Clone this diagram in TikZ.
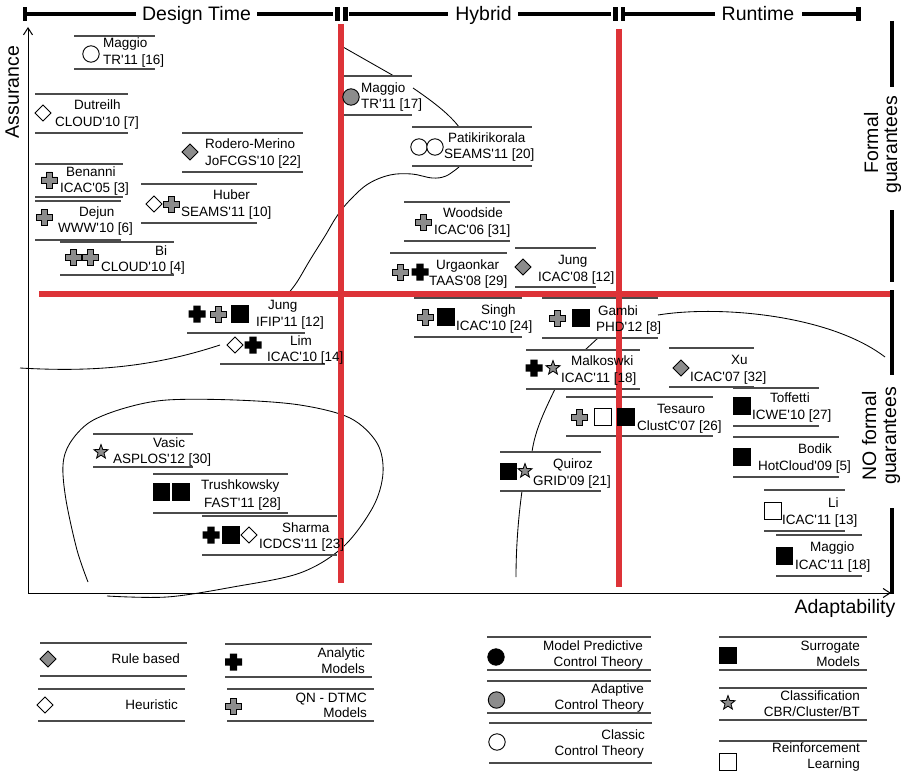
\documentclass[tikz,border=0pt]{standalone}
\usepackage{fontspec}
\setmainfont{Liberation Sans}
\usetikzlibrary{arrows.meta}
\newcommand\ap{\XeTeXglyph\XeTeXcharglyph"27\relax}
\definecolor{redline}{RGB}{221,51,56}
\definecolor{symgray}{RGB}{140,140,140}
\definecolor{rulegray}{RGB}{75,75,75}
\tikzset{
  lbl/.style={font=\fontsize{13.5}{16}\selectfont, inner sep=0pt, anchor=base west},
  lgd/.style={font=\fontsize{13.5}{16}\selectfont, inner sep=0pt, anchor=base east},
  big/.style={font=\fontsize{19.5}{21}\selectfont, inner sep=0pt, anchor=base},
  rl/.style={draw=rulegray, line width=1.1pt},
  redl/.style={draw=redline, line width=5.5pt},
  barline/.style={line width=4pt},
  curv/.style={line width=0.85pt},
  axisline/.style={line width=1pt, -{Straight Barb[length=7pt,width=9pt]}},
  crossg/.pic={\path[draw=black,line width=0.9pt,fill=symgray] (-3,-8)--(3,-8)--(3,-3)--(8,-3)--(8,3)--(3,3)--(3,8)--(-3,8)--(-3,3)--(-8,3)--(-8,-3)--(-3,-3)--cycle;},
  crossb/.pic={\path[fill=black] (-3.7,-8.5)--(3.7,-8.5)--(3.7,-3.7)--(8.5,-3.7)--(8.5,3.7)--(3.7,3.7)--(3.7,8.5)--(-3.7,8.5)--(-3.7,3.7)--(-8.5,3.7)--(-8.5,-3.7)--(-3.7,-3.7)--cycle;},
  diam/.pic={\path[draw=black,line width=0.9pt,pic actions] (0,-8)--(8,0)--(0,8)--(-8,0)--cycle;},
  circ/.pic={\path[draw=black,line width=0.9pt,pic actions] (0,0) circle[radius=8.2];},
  sq/.pic={\path[draw=black,line width=0.9pt,pic actions] (-8.3,-8.3) rectangle (8.3,8.3);},
  starg/.pic={\path[draw=black,line width=0.8pt,fill=symgray] (0,-7.5)--(1.82,-2.51)--(7.13,-2.32)--(2.95,0.96)--(4.41,6.07)--(0,3.1)--(-4.41,6.07)--(-2.95,0.96)--(-7.13,-2.32)--(-1.82,-2.51)--cycle;}
}
\begin{document}
\begin{tikzpicture}[x=1pt,y=-1pt]
\useasboundingbox[fill=white] (0,0) rectangle (908,773);

% ---------- hand-drawn grouping curves ----------
\draw[curv] (343,47) -- (394,76);
\draw[curv] (413,88) .. controls (435,103) and (450,115) .. (459,127);
\draw[curv] plot[smooth,tension=0.6] coordinates {(459,167) (446,176) (432,178) (412,174) (390,175) (368,184) (350,200) (337,216) (325,236) (310,260) (297,282) (287,295)};
\draw[curv] (220,345) .. controls (150,368) and (90,372) .. (20,368);
\draw[curv] (658,315) .. controls (720,305) and (830,315) .. (885,357);
\draw[curv] (598,338) -- (585,350);
\draw[curv] (555,389) .. controls (545,410) and (535,430) .. (532,452);
\draw[curv] (522,491) .. controls (518,520) and (516,550) .. (516,577);
\draw[curv] plot[smooth,tension=0.55] coordinates {(88,582) (77,550) (66,500) (63,465) (70,443) (90,422) (125,408) (167,400) (235,400) (300,405) (350,418) (377,443) (383,473) (373,507) (343,547) (300,573) (233,587) (167,597) (107,596)};

% ---------- entry rules ----------
\foreach \ya/\yb/\xa/\xb in {36/69/74/155, 94/133/35/128, 133/172/182/303, 164/197/35/123, 201/240/35/121,
  184/223/141/257, 242/275/60/174, 76/115/343/412, 127/166/412/532, 202/241/404/510, 253/292/390/507,
  248/287/515/596, 295/333/187/305, 298/337/414/522, 298/338/542/658, 350/389/526/640, 348/387/669/754,
  397/436/566/713, 388/426/733/819, 437/477/733/839, 490/531/764/845, 535/576/776/862, 452/491/500/601,
  434/467/93/193, 474/513/153/288, 516/555/202/337,
  643/676/40/187, 689/721/38/185, 644/677/225/372, 689/721/227/374,
  637/670/487/651, 681/713/487/651, 723/763/489/652, 637/670/719/867, 688/720/719/867}
  {\draw[rl] (\xa,\ya) -- (\xb,\ya); \draw[rl] (\xa,\yb) -- (\xb,\yb);}
\draw[rl] (220,364) -- (325,364);
\draw[rl] (719,741) -- (867,741);

% ---------- red separators ----------
\draw[redl] (341,24) -- (341,583);
\draw[redl] (619,29) -- (619,587);
\draw[redl] (39,294) -- (890,294);

% ---------- axes ----------
\coordinate (origin) at (28,593);
\coordinate (ytop) at (28,27);
\coordinate (xend) at (891,593);
\draw[axisline] (origin) -- (ytop);
\draw[axisline] (origin) -- (xend);
\node[big, rotate=90] (assur) at (19,92) {Assurance};
\node[big] (adapt) at (845,613) {Adaptability};

% ---------- top time bar ----------
\draw[barline] (27,14) -- (136,14);
\draw[barline] (257,14) -- (333,14);
\draw[barline] (349,14) -- (448,14);
\draw[barline] (518,14) -- (611,14);
\draw[barline] (625,14) -- (715,14);
\draw[barline] (802,14) -- (859,14);
\foreach \tx in {25,337.5,345.5,615.5,623,858.5}
  {\draw[line width=4.2pt] (\tx,7.5) -- (\tx,21);}
\node[big] (tdesign) at (196.5,20.7) {Design Time};
\node[big] (thybrid) at (483.5,20.7) {Hybrid};
\node[big] (truntime) at (758,20.7) {Runtime};

% ---------- right guarantee bar ----------
\draw[barline, line width=4.5pt] (892,21) -- (892,87);
\draw[barline, line width=4.5pt] (892,210) -- (892,282);
\draw[barline, line width=4.5pt] (892,290) -- (892,375);
\draw[barline, line width=4.5pt] (892,508) -- (892,594);
\node[big, rotate=90] (gform1) at (878,143) {Formal};
\node[big, rotate=90] (gform2) at (897,145) {guarantees};
\node[big, rotate=90] (gno1) at (876,436) {NO formal};
\node[big, rotate=90] (gno2) at (896,436) {guarantees};

% ---------- symbols ----------
\pic[fill=white] at (91,54) {circ};
\pic[fill=white] at (43,113) {diam};
\pic[fill=symgray] at (190,152) {diam};
\pic at (49,180) {crossg};
\pic at (44.5,217) {crossg};
\pic[fill=white] at (154,204) {diam};
\pic at (171,204) {crossg};
\pic at (73,257) {crossg};
\pic at (90,257) {crossg};
\pic[fill=symgray] at (351,97) {circ};
\pic[fill=white] at (419,147) {circ};
\pic[fill=white] at (435,147) {circ};
\pic at (423,222) {crossg};
\pic at (400,272) {crossg};
\pic at (420,272) {crossb};
\pic[fill=symgray] at (523,267) {diam};
\pic at (197,314) {crossb};
\pic at (218,314) {crossg};
\pic[fill=black] at (240,314) {sq};
\pic[fill=white] at (235,345) {diam};
\pic at (253,345) {crossb};
\pic at (425,317) {crossg};
\pic[fill=black] at (446,317) {sq};
\pic at (557,318) {crossg};
\pic[fill=black] at (581,318) {sq};
\pic at (534,368) {crossb};
\pic at (553,368) {starg};
\pic[fill=symgray] at (681,368) {diam};
\pic at (579,417) {crossg};
\pic[fill=white] at (603,417) {sq};
\pic[fill=black] at (626,417) {sq};
\pic[fill=black] at (742,406) {sq};
\pic[fill=black] at (742,457) {sq};
\pic[fill=white] at (773,511) {sq};
\pic[fill=black] at (784.5,556) {sq};
\pic[fill=black] at (508.5,471.5) {sq};
\pic at (525,471) {starg};
\pic at (101,452) {starg};
\pic[fill=black] at (161.5,492) {sq};
\pic[fill=black] at (181,492) {sq};
\pic at (211,535) {crossb};
\pic[fill=black] at (231,535) {sq};
\pic[fill=white] at (249,535) {diam};
% legend symbols
\pic[fill=symgray] at (48,659) {diam};
\pic[fill=white] at (45,705) {diam};
\pic at (233.5,662) {crossb};
\pic at (233.5,706) {crossg};
\pic[fill=black] at (496,657) {circ};
\pic[fill=symgray] at (496.5,700) {circ};
\pic[fill=white] at (497,742) {circ};
\pic[fill=black] at (728,655.5) {sq};
\pic at (728,703) {starg};
\pic[fill=white] at (728,762) {sq};

% ---------- entry texts ----------
\node[lbl] (e1a) at (103,48) {Maggio};
\node[lbl] (e1b) at (103,65) {TR\ap11 [16]};
\node[lbl] (e2a) at (74,110) {Dutreilh};
\node[lbl] (e2b) at (55,127) {CLOUD\ap10 [7]};
\node[lbl] (e3a) at (205,149) {Rodero-Merino};
\node[lbl] (e3b) at (205,166) {JoFCGS\ap10 [22]};
\node[lbl] (e4a) at (66,177) {Benanni};
\node[lbl] (e4b) at (60,193) {ICAC\ap05 [3]};
\node[lbl] (e5a) at (79,216.5) {Dejun};
\node[lbl] (e5b) at (58,233) {WWW\ap10 [6]};
\node[lbl] (e6a) at (213,200) {Huber};
\node[lbl] (e6b) at (181,216.5) {SEAMS\ap11 [10]};
\node[lbl] (e7a) at (155,255) {Bi};
\node[lbl] (e7b) at (101,271.5) {CLOUD\ap10 [4]};
\node[lbl] (e8a) at (361,93) {Maggio};
\node[lbl] (e8b) at (361,108.5) {TR\ap11 [17]};
\node[lbl] (e9a) at (448,143) {Patikirikorala};
\node[lbl] (e9b) at (444,159) {SEAMS\ap11 [20]};
\node[lbl] (e10a) at (443,218) {Woodside};
\node[lbl] (e10b) at (434,234) {ICAC\ap06 [31]};
\node[lbl] (e11a) at (436,269) {Urgaonkar};
\node[lbl] (e11b) at (429,285.5) {TAAS\ap08 [29]};
\node[lbl] (e12a) at (558,264) {Jung};
\node[lbl] (e12b) at (538,281) {ICAC\ap08 [12]};
\node[lbl] (e13a) at (268,309) {Jung};
\node[lbl] (e13b) at (256,326) {IFIP\ap11 [12]};
\node[lbl] (e14a) at (290,345) {Lim};
\node[lbl] (e14b) at (267,361) {ICAC\ap10 [14]};
\node[lbl] (e15a) at (481,314) {Singh};
\node[lbl] (e15b) at (456,330) {ICAC\ap10 [24]};
\node[lbl] (e16a) at (598,315) {Gambi};
\node[lbl] (e16b) at (596,331.5) {PHD\ap12 [8]};
\node[lbl] (e17a) at (571,365.5) {Malkoswki};
\node[lbl] (e17b) at (561,382) {ICAC\ap11 [18]};
\node[lbl] (e18a) at (731,364) {Xu};
\node[lbl] (e18b) at (690,381) {ICAC\ap07 [32]};
\node[lbl] (e19a) at (657,413) {Tesauro};
\node[lbl] (e19b) at (637,430) {ClustC\ap07 [26]};
\node[lbl] (e20a) at (770,402) {Toffetti};
\node[lbl] (e20b) at (752,419) {ICWE\ap10 [27]};
\node[lbl] (e21a) at (798,453) {Bodik};
\node[lbl] (e21b) at (758,470) {HotCloud\ap09 [5]};
\node[lbl] (e22a) at (828,507) {Li};
\node[lbl] (e22b) at (782,524) {ICAC\ap11 [13]};
\node[lbl] (e23a) at (810,551) {Maggio};
\node[lbl] (e23b) at (795,569) {ICAC\ap11 [18]};
\node[lbl] (e24a) at (553,468) {Quiroz};
\node[lbl] (e24b) at (533,485) {GRID\ap09 [21]};
\node[lbl] (e25a) at (153,447) {Vasic};
\node[lbl] (e25b) at (113,463) {ASPLOS\ap12 [30]};
\node[lbl] (e26a) at (201,489) {Trushkowsky};
\node[lbl] (e26b) at (204,507) {FAST\ap11 [28]};
\node[lbl] (e27a) at (282,532) {Sharma};
\node[lbl] (e27b) at (259,548) {ICDCS\ap11 [23]};

% ---------- legend texts ----------
\node[lgd] (l1) at (180,663) {Rule based};
\node[lgd] (l2) at (178,709) {Heuristic};
\node[lgd] (l3a) at (365,657) {Analytic};
\node[lgd] (l3b) at (365,673) {Models};
\node[lgd] (l4a) at (367,702) {QN - DTMC};
\node[lgd] (l4b) at (367,717) {Models};
\node[lgd] (l5a) at (643,650) {Model Predictive};
\node[lgd] (l5b) at (643,666) {Control Theory};
\node[lgd] (l6a) at (644,693) {Adaptive};
\node[lgd] (l6b) at (644,709) {Control Theory};
\node[lgd] (l7a) at (645,739) {Classic};
\node[lgd] (l7b) at (644,755) {Control Theory};
\node[lgd] (l8a) at (860,650) {Surrogate};
\node[lgd] (l8b) at (860,666) {Models};
\node[lgd] (l9a) at (860,700) {Classification};
\node[lgd] (l9b) at (860,716) {CBR/Cluster/BT};
\node[lgd] (l10a) at (860,752) {Reinforcement};
\node[lgd] (l10b) at (860,768) {Learning};
\end{tikzpicture}
\end{document}
